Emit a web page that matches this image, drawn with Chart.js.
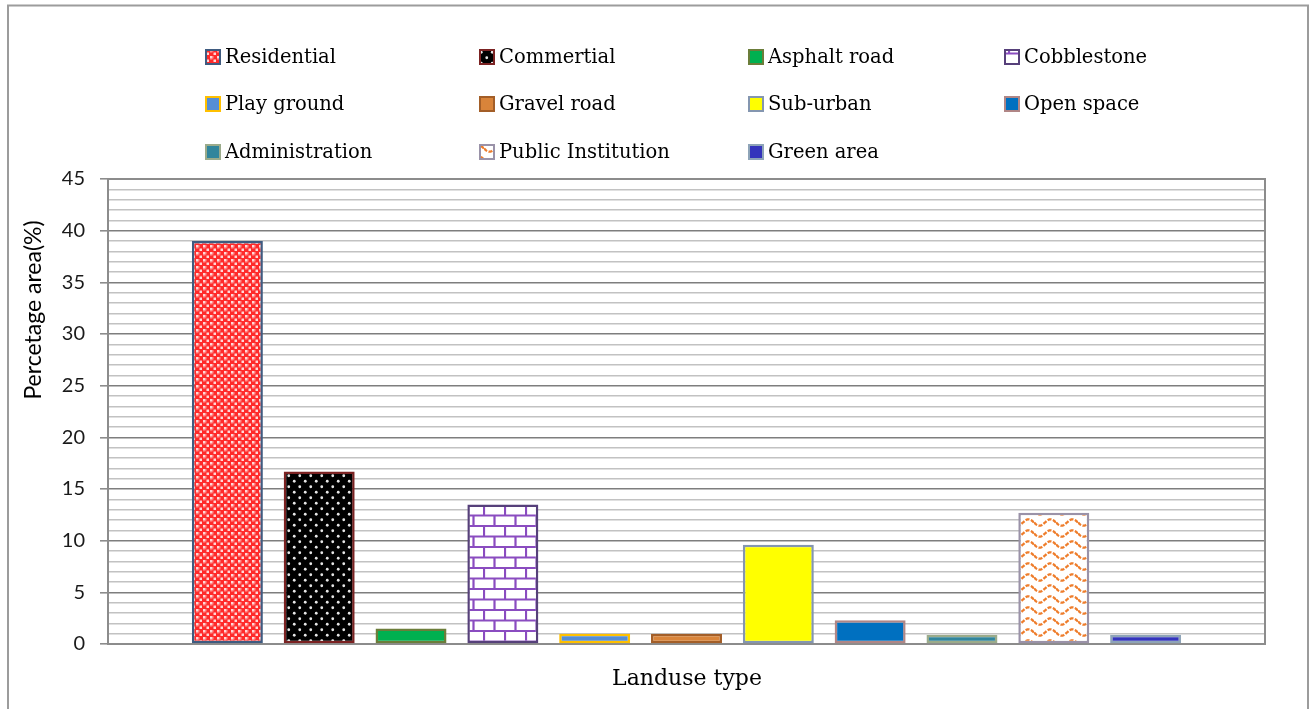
<!DOCTYPE html>
<html>
<head>
<meta charset="utf-8">
<title>Landuse type</title>
<script src="https://cdn.jsdelivr.net/npm/chart.js@4.4.1/dist/chart.umd.min.js"></script>
<style>
  html, body { margin: 0; padding: 0; background: #fff; }
  canvas { display: block; }
</style>
</head>
<body>
<canvas id="landuse" width="1310" height="709"></canvas>
<script>
// landuse classes and their share of the area (%)
const landuseTypes = [
  'Residential', 'Commertial', 'Asphalt road', 'Cobblestone',
  'Play ground', 'Gravel road', 'Sub-urban', 'Open space',
  'Administration', 'Public Institution', 'Green area'
];
const percentArea = [39, 16.7, 1.5, 13.5, 1.0, 1.0, 9.6, 2.3, 0.9, 12.7, 0.9];
const yMax = 45;
const majorStep = 5;

function makePattern(w, h, draw) {
  const c = document.createElement('canvas');
  c.width = w;
  c.height = h;
  const g = c.getContext('2d');
  draw(g, w, h);
  return g.createPattern(c, 'repeat');
}

// red crosses on a pale lattice
const redLattice = makePattern(7, 7, (g) => {
  g.fillStyle = '#ff2a2a';
  g.fillRect(0, 0, 7, 7);
  g.fillStyle = 'rgba(255,225,225,0.95)';
  g.fillRect(0, 0, 2.5, 2.5);
  g.fillRect(3.5, 3.5, 2.5, 2.5);
  g.fillStyle = 'rgba(255,170,170,0.8)';
  g.fillRect(2.5, 0, 1, 2.5);
  g.fillRect(0, 2.5, 2.5, 1);
});

// black with white dots
const blackDots = makePattern(11, 11, (g) => {
  g.fillStyle = '#000';
  g.fillRect(0, 0, 11, 11);
  g.fillStyle = 'rgba(255,255,255,0.9)';
  [[2.75, 2.75], [8.25, 8.25]].forEach(([x, y]) => {
    g.beginPath();
    g.arc(x, y, 1.4, 0, Math.PI * 2);
    g.fill();
  });
});

// purple brick wall
const bricks = makePattern(21, 21, (g) => {
  g.fillStyle = '#fff';
  g.fillRect(0, 0, 21, 21);
  g.strokeStyle = '#8a4cc0';
  g.lineWidth = 2.2;
  g.beginPath();
  g.moveTo(0, 1); g.lineTo(21, 1);
  g.moveTo(0, 11.5); g.lineTo(21, 11.5);
  g.moveTo(1, 1); g.lineTo(1, 11.5);
  g.moveTo(11.5, 11.5); g.lineTo(11.5, 21);
  g.stroke();
});

// orange waves
const waves = makePattern(22, 11, (g) => {
  g.fillStyle = '#fff';
  g.fillRect(0, 0, 22, 11);
  g.strokeStyle = '#ee7d2c';
  g.lineWidth = 2.3;
  g.setLineDash([4, 1.5]);
  g.beginPath();
  for (let x = 0; x <= 22; x += 0.5) {
    const y = 5.5 + 3.2 * Math.sin((2 * Math.PI * x) / 22);
    if (x === 0) g.moveTo(x, y); else g.lineTo(x, y);
  }
  g.stroke();
});

const fills = [
  redLattice, blackDots, '#00b050', bricks,
  '#558ed5', '#d9843a', '#ffff00', '#0070c0',
  '#31859c', waves, '#3434bc'
];
const borders = [
  '#3f5b80', '#7b2222', '#6b7d3a', '#56407a',
  '#ffc000', '#a35e28', '#8496b0', '#b08686',
  '#9bab8b', '#9a92a8', '#8ea4b8'
];

// outer frame of the chart
const frame = {
  id: 'frame',
  beforeDraw(chart) {
    const ctx = chart.ctx;
    ctx.save();
    ctx.fillStyle = '#fff';
    ctx.fillRect(0, 0, chart.width, chart.height);
    ctx.strokeStyle = '#9c9c9c';
    ctx.lineWidth = 2;
    ctx.strokeRect(8, 5.5, 1300, 720);
    ctx.restore();
  },
  beforeDatasetsDraw(chart) {
    const a = chart.chartArea;
    const ctx = chart.ctx;
    ctx.save();
    ctx.strokeStyle = '#8c8c8c';
    ctx.lineWidth = 2;
    ctx.strokeRect(a.left, a.top, a.right - a.left, a.bottom - a.top);
    ctx.restore();
  }
};

// four-column legend and the two axis titles
const legendGrid = {
  id: 'legendGrid',
  afterDraw(chart) {
    const ctx = chart.ctx;
    const colX = [206, 480, 749, 1005];
    const rowY = [57, 104, 152];
    ctx.save();
    ctx.font = '19.5px "DejaVu Serif"';
    ctx.textBaseline = 'middle';
    ctx.textAlign = 'left';
    chart.data.datasets.forEach((ds, i) => {
      const x = colX[i % 4];
      const y = rowY[Math.floor(i / 4)];
      ctx.fillStyle = ds.backgroundColor;
      ctx.fillRect(x, y - 7, 14, 14);
      ctx.strokeStyle = ds.borderColor;
      ctx.lineWidth = 2;
      ctx.strokeRect(x, y - 7, 14, 14);
      ctx.fillStyle = '#000';
      ctx.fillText(ds.label, x + 19, y + 1);
    });

    ctx.textAlign = 'center';
    ctx.font = '22px "DejaVu Serif"';
    ctx.fillText('Landuse type', 687, 679);

    ctx.translate(34, 310);
    ctx.rotate(-Math.PI / 2);
    ctx.font = '23px Lato';
    ctx.fillText('Percetage area(%)', 0, 0);
    ctx.restore();
  }
};

const isMajor = (v) => v % majorStep === 0;

new Chart(document.getElementById('landuse'), {
  type: 'bar',
  data: {
    labels: [''],
    datasets: landuseTypes.map((name, i) => ({
      label: name,
      data: [percentArea[i]],
      backgroundColor: fills[i],
      borderColor: borders[i],
      borderWidth: 2.5,
      borderSkipped: false,
      categoryPercentage: 0.873,
      barPercentage: 0.773
    }))
  },
  options: {
    responsive: false,
    animation: false,
    layout: { padding: { top: 179, right: 45, bottom: 65, left: 0 } },
    plugins: {
      legend: { display: false },
      tooltip: { enabled: false }
    },
    scales: {
      x: {
        ticks: { display: false },
        grid: { display: false },
        border: { color: '#8c8c8c', width: 2 },
        afterFit(scale) { scale.height = 0; }
      },
      y: {
        min: 0,
        max: yMax,
        afterFit(scale) { scale.width = 108; },
        ticks: {
          stepSize: 1,
          autoSkip: false,
          padding: 15,
          color: '#1a1a1a',
          font: { family: 'Lato', size: 20 },
          callback: (v) => (isMajor(v) ? v : '')
        },
        grid: {
          lineWidth: 1.6,
          color: (c) => (isMajor(c.tick.value) ? '#7e7e7e' : '#c2c2c2'),
          tickColor: (c) => (isMajor(c.tick.value) ? '#8c8c8c' : 'rgba(0,0,0,0)'),
          tickLength: 8
        },
        border: { color: '#8c8c8c', width: 2 }
      }
    }
  },
  plugins: [frame, legendGrid]
});
</script>
</body>
</html>
